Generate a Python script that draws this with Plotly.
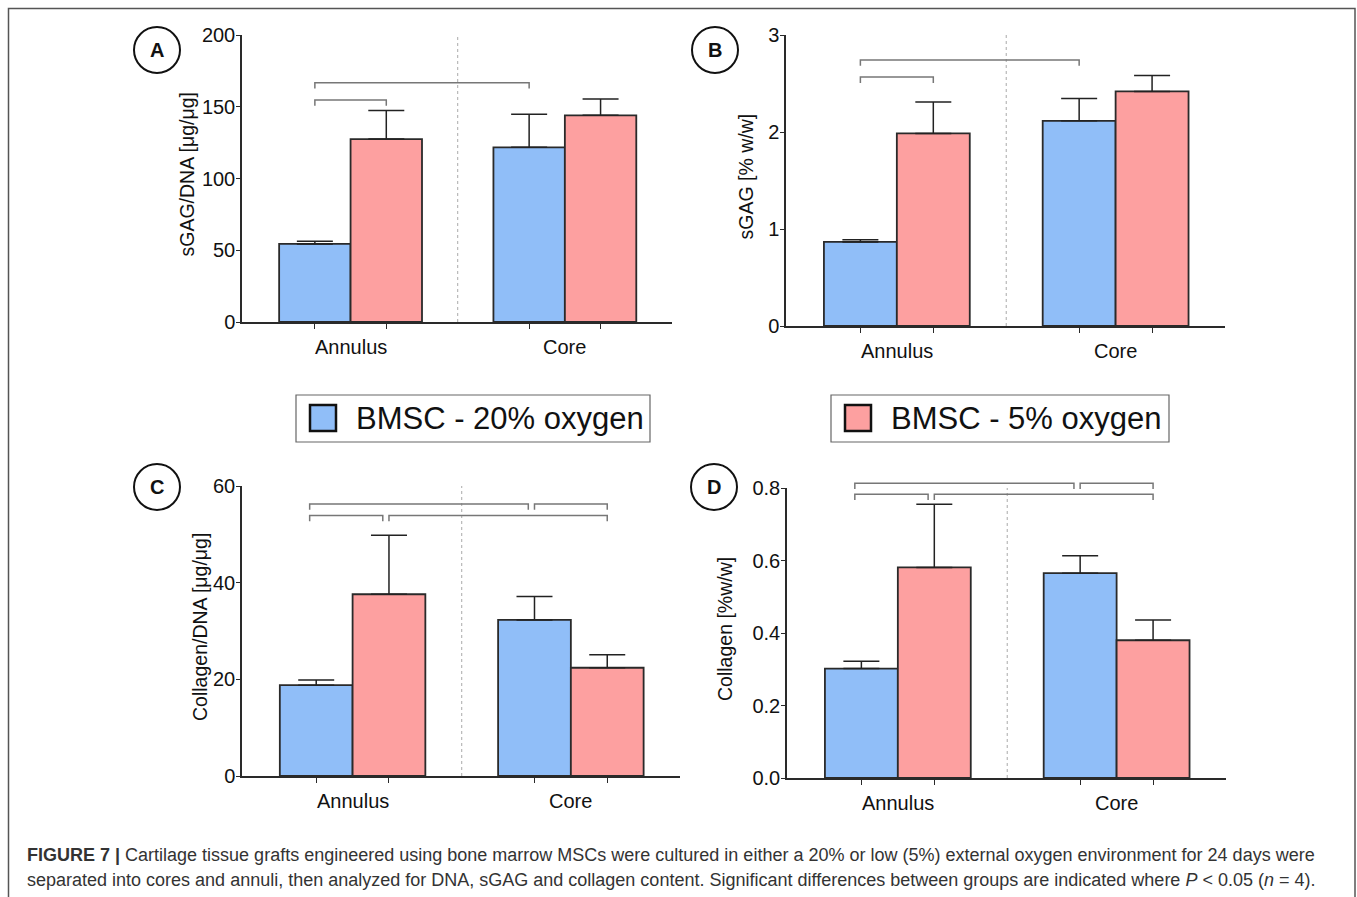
import plotly.graph_objects as go

# ---------------- data ----------------
groups = ["Annulus", "Core"]
series_names = ["BMSC - 20% oxygen", "BMSC - 5% oxygen"]

# Panel A: sGAG/DNA [µg/µg]
a_20 = [54.4, 121.7]
a_20_sd = [1.8, 23.0]
a_5 = [127.5, 144.0]
a_5_sd = [19.8, 11.4]
a_ticks = [0, 50, 100, 150, 200]

# Panel B: sGAG [% w/w]
b_20 = [0.867, 2.115]
b_20_sd = [0.023, 0.231]
b_5 = [1.985, 2.418]
b_5_sd = [0.325, 0.165]
b_ticks = [0, 1, 2, 3]

# Panel C: Collagen/DNA [µg/µg]
c_20 = [18.8, 32.3]
c_20_sd = [1.05, 4.85]
c_5 = [37.6, 22.4]
c_5_sd = [12.2, 2.7]
c_ticks = [0, 20, 40, 60]

# Panel D: Collagen [%w/w]
d_20 = [0.302, 0.565]
d_20_sd = [0.020, 0.048]
d_5 = [0.581, 0.380]
d_5_sd = [0.174, 0.056]
d_ticks = [0.0, 0.2, 0.4, 0.6, 0.8]

# significance brackets: (from bar index, to bar index, level)
a_brackets = [(0, 1, 154.7), (0, 2, 166.8)]
b_brackets = [(0, 1, 2.566), (0, 2, 2.742)]
c_brackets = [(0, 2, 56.3), (2, 3, 56.3), (0, 1, 53.9), (1, 3, 53.9)]
d_brackets = [(0, 2, 0.813), (2, 3, 0.813), (0, 1, 0.783), (1, 3, 0.783)]

caption_1 = ("<b>FIGURE 7 |</b> Cartilage tissue grafts engineered using bone marrow MSCs were cultured "
             "in either a 20% or low (5%) external oxygen environment for 24 days were")
caption_2 = ("separated into cores and annuli, then analyzed for DNA, sGAG and collagen content. "
             "Significant differences between groups are indicated where <i>P</i> &lt; 0.05 (<i>n</i> = 4).")

# ---------------- styling / layout ----------------
W, H = 1357, 897
FONT = "Arial, 'Liberation Sans', Helvetica, sans-serif"
BLUE = "#90BEF8"
RED = "#FDA0A0"
EDGE = "#2A2A2A"
BRACKET = "#777777"

panels = [
    dict(label="A", s20=a_20, s20sd=a_20_sd, s5=a_5, s5sd=a_5_sd, ticks=a_ticks, tickfmt="{:g}",
         title="sGAG/DNA [μg/μg]", brackets=a_brackets, offs=False,
         px=(242, 672), py=(322, 35), tshift=56, circ=(157, 50)),
    dict(label="B", s20=b_20, s20sd=b_20_sd, s5=b_5, s5sd=b_5_sd, ticks=b_ticks, tickfmt="{:g}",
         title="sGAG [% w/w]", brackets=b_brackets, offs=False,
         px=(786, 1225), py=(326, 35), tshift=41, circ=(715, 50)),
    dict(label="C", s20=c_20, s20sd=c_20_sd, s5=c_5, s5sd=c_5_sd, ticks=c_ticks, tickfmt="{:g}",
         title="Collagen/DNA [μg/μg]", brackets=c_brackets, offs=True,
         px=(242, 680), py=(776, 486), tshift=42, circ=(157, 487)),
    dict(label="D", s20=d_20, s20sd=d_20_sd, s5=d_5, s5sd=d_5_sd, ticks=d_ticks, tickfmt="{:.1f}",
         title="Collagen [%w/w]", brackets=d_brackets, offs=True,
         px=(787, 1226), py=(778, 488), tshift=62, circ=(714, 487)),
]

def fx(p):
    return p / W

def fy(p):
    return 1 - p / H

fig = go.Figure()
shapes = []
annotations = []

group_gap = 3  # slots per group (2 bars + 1 gap)
XR = [-1.02, 5.0]

for i, pn in enumerate(panels):
    k = "" if i == 0 else str(i + 1)
    xa, ya = "x" + k, "y" + k
    ymax = pn["ticks"][-1]
    pos20 = [g * group_gap + 0 for g in range(len(groups))]
    pos5 = [g * group_gap + 1 for g in range(len(groups))]
    allpos = [pos20[0], pos5[0], pos20[1], pos5[1]]
    for pos, vals, sd, col, nm in [(pos20, pn["s20"], pn["s20sd"], BLUE, series_names[0]),
                                   (pos5, pn["s5"], pn["s5sd"], RED, series_names[1])]:
        fig.add_trace(go.Bar(
            x=pos, y=vals, width=1.0, name=nm, showlegend=False,
            marker=dict(color=col, line=dict(color=EDGE, width=1.8)),
            error_y=dict(type="data", symmetric=False, array=sd, arrayminus=[0] * len(sd),
                         color="#222222", thickness=1.5, width=18),
            xaxis=xa, yaxis=ya, hoverinfo="skip",
        ))
    axkey = "xaxis" + k
    aykey = "yaxis" + k
    fig.layout[axkey] = dict(
        domain=[fx(pn["px"][0]), fx(pn["px"][1])], range=XR, anchor=ya,
        showline=True, linecolor=EDGE, linewidth=1.5, showgrid=False, zeroline=False,
        tickvals=allpos, ticktext=[""] * 4, ticks="outside", ticklen=5, tickwidth=1.3,
        tickcolor=EDGE, showticklabels=False, fixedrange=True, automargin=False,
    )
    fig.layout[aykey] = dict(
        domain=[fy(pn["py"][0]), fy(pn["py"][1])], range=[0, ymax], anchor=xa,
        showline=True, linecolor=EDGE, linewidth=1.5, showgrid=False, zeroline=False,
        tickvals=pn["ticks"], ticktext=[pn["tickfmt"].format(t) for t in pn["ticks"]],
        ticks="outside", ticklen=4, tickwidth=1.3, tickcolor=EDGE, ticklabelstandoff=-3,
        tickfont=dict(family=FONT, size=20, color="#111111"), fixedrange=True, automargin=False,
    )
    sep = (pos5[0] + pos20[1]) / 2
    shapes.append(dict(type="line", xref=xa, yref=ya, x0=sep, x1=sep, y0=0, y1=ymax,
                       line=dict(color="#AAAAAA", width=1, dash="dot"), layer="below"))
    for g, name in enumerate(groups):
        annotations.append(dict(text=name, xref=xa, yref=ya + " domain",
                                x=(pos20[g] + pos5[g]) / 2, y=0, xanchor="center", yanchor="top",
                                yshift=-12, showarrow=False,
                                font=dict(family=FONT, size=20, color="#111111")))
    annotations.append(dict(text=pn["title"], xref=xa + " domain", yref=ya + " domain",
                            x=0, y=0.5, xanchor="center", yanchor="middle",
                            xshift=-pn["tshift"], yshift=4, textangle=-90,
                            showarrow=False, font=dict(family=FONT, size=19.5, color="#111111")))
    leg = 0.02
    starts = {(b[0], b[2]) for b in pn["brackets"]}
    for (b0, b1, lvl) in pn["brackets"]:
        x0 = allpos[b0]
        x1 = allpos[b1]
        if pn["offs"]:
            if b0 == 0:
                x0 -= 0.09
            if (b1, lvl) in starts:
                x1 -= 0.085
        yt = lvl / ymax
        yb = yt - leg
        shapes.append(dict(type="path", xref=xa, yref=ya + " domain",
                           path=f"M {x0},{yb} L {x0},{yt} L {x1},{yt} L {x1},{yb}",
                           line=dict(color=BRACKET, width=1.5)))
    cx, cy = pn["circ"]
    r = 23
    shapes.append(dict(type="circle", xref="paper", yref="paper",
                       x0=fx(cx - r), x1=fx(cx + r), y0=fy(cy + r), y1=fy(cy - r),
                       line=dict(color="#111111", width=2)))
    annotations.append(dict(text="<b>" + pn["label"] + "</b>", xref="paper", yref="paper",
                            x=fx(cx), y=fy(cy), xanchor="center", yanchor="middle",
                            showarrow=False, font=dict(family=FONT, size=20, color="#111111")))

legend_specs = [(296, 650, BLUE, series_names[0]), (831, 1169, RED, series_names[1])]
for (x0, x1, col, nm) in legend_specs:
    shapes.append(dict(type="rect", xref="paper", yref="paper",
                       x0=fx(x0), x1=fx(x1), y0=fy(442), y1=fy(395),
                       line=dict(color="#666666", width=1.2)))
    shapes.append(dict(type="rect", xref="paper", yref="paper",
                       x0=fx(x0 + 14), x1=fx(x0 + 40), y0=fy(431), y1=fy(405),
                       fillcolor=col, line=dict(color="#111111", width=2.5)))
    annotations.append(dict(text=nm, xref="paper", yref="paper", x=fx(x0 + 58), y=fy(418.5),
                            xanchor="left", yanchor="middle", showarrow=False,
                            font=dict(family=FONT, size=31, color="#111111")))

shapes.append(dict(type="path", xref="paper", yref="paper",
                   path=f"M {fx(8.5)},-0.05 L {fx(8.5)},{fy(8.5)} L {fx(1355)},{fy(8.5)} L {fx(1355)},-0.05",
                   line=dict(color="#555555", width=1.5)))

for txt, yy in [(caption_1, 855), (caption_2, 880)]:
    annotations.append(dict(text=txt, xref="paper", yref="paper", x=fx(25), y=fy(yy),
                            xanchor="left", yanchor="middle", showarrow=False,
                            font=dict(family=FONT, size=18, color="#333333")))

fig.update_layout(
    width=W, height=H, margin=dict(l=0, r=0, t=0, b=0, pad=0), autosize=False,
    paper_bgcolor="white", plot_bgcolor="white",
    barmode="overlay", showlegend=False,
    shapes=shapes, annotations=annotations,
    font=dict(family=FONT),
)

fig.write_html(
    "out.html",
    config={"displayModeBar": False, "responsive": False},
    post_script=(
        "var gd=document.getElementById('{plot_id}');"
        "gd.style.position='fixed';gd.style.top='0px';gd.style.left='0px';"
        "document.body.style.margin='0px';document.body.style.overflow='hidden';"
        "document.documentElement.style.overflow='hidden';"
    ),
)
